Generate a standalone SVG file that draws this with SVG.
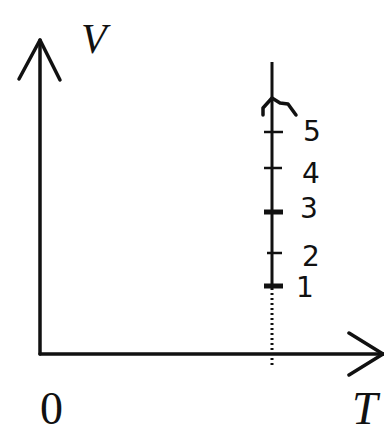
<svg xmlns="http://www.w3.org/2000/svg" width="384" height="433" viewBox="0 0 384 433">
<style>
.ax{stroke:#111;stroke-width:3.5;fill:none;stroke-linecap:round;stroke-linejoin:round}
.ln{stroke:#111;stroke-width:3;fill:none}
.tk{stroke:#111;stroke-width:2.5}
.tkb{stroke:#111;stroke-width:5}
.lbl{font-family:"Liberation Serif",serif;font-style:italic;fill:#111}
.zero{font-family:"Liberation Serif",serif;font-style:normal;fill:#111}
.num{font-family:"DejaVu Sans",sans-serif;fill:#111;font-size:28px}
</style>
<rect width="384" height="433" fill="#fff"/>
<g id="connectors">
<path id="v-axis" class="ax" d="M40,354 L40,40"/>
<path class="ax" d="M19,79 L40,40 L60,80"/>
<path id="t-axis" class="ax" d="M40,354 L384,354"/>
<path class="ax" d="M349,333 L383,354 L349,375"/>
<path id="isotherm" class="ln" d="M272,62 L272,286"/>
<path class="ln" d="M272,288 L272,366" stroke-dasharray="2,3" stroke-width="2"/>
<path class="ax" stroke-width="3" d="M263,115 L263,108 L272,98 L280,103 L288,104 L296,115"/>
</g>
<g id="ticks">
<line class="tk" x1="264" y1="132" x2="283" y2="132"/>
<line class="tk" x1="264" y1="168" x2="282" y2="168"/>
<line class="tkb" x1="264" y1="212" x2="283" y2="212"/>
<line class="tk" x1="267" y1="253" x2="282" y2="253"/>
<line class="tkb" x1="264" y1="286" x2="283" y2="286"/>
</g>
<g id="labels">
<text class="lbl" x="81" y="53" font-size="42">V</text>
<text class="zero" x="40" y="424" font-size="46">0</text>
<text class="lbl" x="352" y="424" font-size="46">T</text>
<text class="num" x="303" y="141">5</text>
<text class="num" x="302" y="183">4</text>
<text class="num" x="300" y="218">3</text>
<text class="num" x="302" y="266">2</text>
<text class="num" x="296" y="297">1</text>
</g>
</svg>
